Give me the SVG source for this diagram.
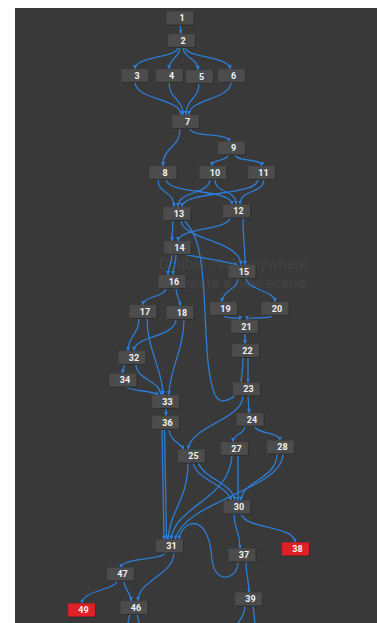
<svg xmlns="http://www.w3.org/2000/svg" width="377" height="623" viewBox="0 0 377 623">
<defs>
<style>
.n rect{fill:#4c4c4c;stroke:#404040;stroke-width:0.5}
.n .sh{fill:#2b2b2b;stroke:none}
.r rect{fill:#de2127;stroke:#b81a1f}
.n text{fill:#f2f2f2;font-family:Roboto,"Noto Sans","Liberation Sans",sans-serif;font-weight:bold;font-size:9px;text-anchor:middle}
.e path{fill:none;stroke:#2c7dd6;stroke-width:1.3;marker-end:url(#a)}
.e path.na{marker-end:none}
.wm{fill:#434343;font-family:Roboto,"Noto Sans","Liberation Sans",sans-serif;font-size:15px;text-anchor:middle}
</style>
<marker id="a" markerUnits="userSpaceOnUse" markerWidth="4" markerHeight="4" refX="4" refY="2" orient="auto">
<path d="M0,0 L4,2 L0,4 z" fill="#2c7dd6"/>
</marker>
</defs>
<rect x="0" y="0" width="377" height="623" fill="#ffffff"/>
<rect x="15" y="8" width="362" height="615" fill="#393939"/>
<text class="wm" x="233" y="269">Double click anywhere</text>
<text class="wm" x="233" y="288">to create a new scene</text>
<g id="connectors" class="e">
<path d="M180 24.5 L181 34"/>
<path d="M178 47 C178 58, 135 56, 135 69"/>
<path d="M180 47 C180 58, 169 58, 169 69"/>
<path d="M183 47 C183 58, 198 58, 198 70"/>
<path d="M185 47 C185 58, 230 56, 230 69"/>
<path d="M135 82 C135 100, 181 98, 181 115"/>
<path d="M169 82 C169 100, 183 98, 183 115"/>
<path d="M199 83 C199 100, 186 98, 186 115"/>
<path d="M231 82 C231 100, 189 98, 189 115"/>
<path d="M180 128 C180 150, 163 145, 163 166"/>
<path d="M190 128 C190 138, 229 132, 229 141.5"/>
<path d="M228 154.5 C228 162, 212 158, 212 166"/>
<path d="M235 154.5 C235 162, 262 158, 262 166"/>
<path d="M158 179 C158 195, 174 190, 174 207"/>
<path d="M166 179 C166 195, 232 188, 232 204.5"/>
<path d="M210 179 C210 195, 178 190, 178 207"/>
<path d="M215 179 C215 195, 236 188, 236 204.5"/>
<path d="M258 179 C258 197, 182 190, 182 207"/>
<path d="M264 179 C264 195, 240 188, 240 204.5"/>
<path d="M173 220 C173 230, 172 232, 172 241"/>
<path d="M230 217.5 C230 230, 178 228, 178 241"/>
<path d="M181 220 C181 240, 241 240, 241 265"/>
<path d="M243 217.5 C243 240, 245 245, 245 265"/>
<path d="M184 254 C200 258, 220 260, 238 265"/>
<path class="na" d="M184 220 C195 232, 200 245, 203 280 C207 330, 205 370, 215 395 C220 405, 230 400, 235 395.5"/>
<path d="M172 254 C172 265, 168 265, 168 275"/>
<path d="M176 254 C176 265, 173 265, 173 275"/>
<path d="M238 278 C238 290, 222 290, 222 302"/>
<path d="M246 278 C246 290, 275 290, 275 302"/>
<path d="M224 315 C224 320, 240 316, 240 320"/>
<path d="M272 315 C272 320, 247 316, 247 320"/>
<path d="M245 333 L245 344"/>
<path class="na" d="M243 357 C243 370, 242 372, 241 382.5"/>
<path d="M248 357 C248 370, 248 370, 248 382.5"/>
<path d="M166 288 C166 297, 143 296, 143 305"/>
<path d="M176 288 C176 297, 180 297, 180 306"/>
<path d="M139 318 C139 335, 128 335, 128 351"/>
<path d="M176 319 C176 338, 134 335, 134 351"/>
<path d="M147 318 C147 350, 163 370, 163 395"/>
<path d="M184 319 C184 350, 169 370, 169 395"/>
<path d="M125 364 L122 373.5"/>
<path d="M136 364 C136 380, 160 380, 161 395"/>
<path d="M125 386.5 C135 392, 150 390, 159 395"/>
<path d="M166 408 L166 416"/>
<path d="M248 395.5 L249 413"/>
<path d="M243 395.5 C243 420, 191 425, 188 449.5"/>
<path d="M245 426 C245 435, 233 433, 233 442"/>
<path d="M255 426 C255 434, 280 432, 280 440.5"/>
<path d="M169 429 C170 442, 180 442, 184 449.5"/>
<path d="M162 429 L164 539.5"/>
<path d="M164.5 429 L166.5 539.5"/>
<path d="M188 462.5 C188 500, 170 510, 168 539.5"/>
<path d="M193 462.5 C196 480, 228 485, 231 500.5"/>
<path d="M198 462.5 C205 480, 232 482, 235 500.5"/>
<path d="M238 455 L238 500.5"/>
<path d="M232 455 C230 500, 175 505, 171 539.5"/>
<path d="M277 453.5 C277 480, 242 480, 241 500.5"/>
<path d="M283 453.5 C283 490, 185 500, 175 539.5"/>
<path d="M234 513.5 C234 530, 240 530, 240 548.5"/>
<path d="M241 513.5 C245 530, 295 525, 295 542.5"/>
<path d="M246 561.5 C246 575, 249 580, 249 592.5"/>
<path d="M238 561.5 C238 580, 215 585, 212 560 C210 530, 200 520, 188 525 C183 528, 180 533, 179 539.5"/>
<path d="M165 552.5 C165 560, 121 558, 121 567.5"/>
<path d="M174 552.5 C174 575, 138 580, 138 601"/>
<path d="M117 580.5 C117 590, 82 590, 82 603.5"/>
<path d="M124 580.5 C124 590, 131 592, 131 601"/>
<path class="na" d="M130 614 L128 623"/>
<path class="na" d="M137 614 L139 623"/>
<path class="na" d="M245 605.5 C245 615, 240 620, 238 623"/>
<path class="na" d="M253 605.5 L255 623"/>
</g>
<g id="node1" class="n"><rect class="sh" x="167.5" y="12.5" width="27" height="13"/><rect x="166.5" y="11.5" width="27" height="13"/><text x="182" y="21">1</text></g>
<g id="node2" class="n"><rect class="sh" x="169" y="35" width="27" height="13"/><rect x="168" y="34" width="27" height="13"/><text x="183" y="43.5">2</text></g>
<g id="node3" class="n"><rect class="sh" x="122.5" y="70" width="27" height="13"/><rect x="121.5" y="69" width="27" height="13"/><text x="137" y="78.5">3</text></g>
<g id="node4" class="n"><rect class="sh" x="157" y="70" width="27" height="13"/><rect x="156" y="69" width="27" height="13"/><text x="171.5" y="78.5">4</text></g>
<g id="node5" class="n"><rect class="sh" x="187" y="71" width="27" height="13"/><rect x="186" y="70" width="27" height="13"/><text x="201.5" y="79.5">5</text></g>
<g id="node6" class="n"><rect class="sh" x="219" y="70" width="27" height="13"/><rect x="218" y="69" width="27" height="13"/><text x="233.5" y="78.5">6</text></g>
<g id="node7" class="n"><rect class="sh" x="173" y="116" width="27" height="13"/><rect x="172" y="115" width="27" height="13"/><text x="187.5" y="124.5">7</text></g>
<g id="node9" class="n"><rect class="sh" x="219" y="142.5" width="27" height="13"/><rect x="218" y="141.5" width="27" height="13"/><text x="233.5" y="151">9</text></g>
<g id="node8" class="n"><rect class="sh" x="150.5" y="167" width="27" height="13"/><rect x="149.5" y="166" width="27" height="13"/><text x="165" y="175.5">8</text></g>
<g id="node10" class="n"><rect class="sh" x="200.5" y="167" width="27" height="13"/><rect x="199.5" y="166" width="27" height="13"/><text x="215" y="175.5">10</text></g>
<g id="node11" class="n"><rect class="sh" x="249" y="167" width="27" height="13"/><rect x="248" y="166" width="27" height="13"/><text x="263.5" y="175.5">11</text></g>
<g id="node13" class="n"><rect class="sh" x="164.5" y="208" width="27" height="13"/><rect x="163.5" y="207" width="27" height="13"/><text x="179" y="216.5">13</text></g>
<g id="node12" class="n"><rect class="sh" x="224" y="205.5" width="27" height="13"/><rect x="223" y="204.5" width="27" height="13"/><text x="238.5" y="214">12</text></g>
<g id="node14" class="n"><rect class="sh" x="165" y="242" width="27" height="13"/><rect x="164" y="241" width="27" height="13"/><text x="179.5" y="250.5">14</text></g>
<g id="node15" class="n"><rect class="sh" x="229.5" y="266" width="27" height="13"/><rect x="228.5" y="265" width="27" height="13"/><text x="244" y="274.5">15</text></g>
<g id="node16" class="n"><rect class="sh" x="159.5" y="276" width="27" height="13"/><rect x="158.5" y="275" width="27" height="13"/><text x="174" y="284.5">16</text></g>
<g id="node17" class="n"><rect class="sh" x="130.5" y="306" width="27" height="13"/><rect x="129.5" y="305" width="27" height="13"/><text x="145" y="314.5">17</text></g>
<g id="node18" class="n"><rect class="sh" x="167.5" y="307" width="27" height="13"/><rect x="166.5" y="306" width="27" height="13"/><text x="182" y="315.5">18</text></g>
<g id="node19" class="n"><rect class="sh" x="211" y="303" width="27" height="13"/><rect x="210" y="302" width="27" height="13"/><text x="225.5" y="311.5">19</text></g>
<g id="node20" class="n"><rect class="sh" x="262.5" y="303" width="27" height="13"/><rect x="261.5" y="302" width="27" height="13"/><text x="277" y="311.5">20</text></g>
<g id="node21" class="n"><rect class="sh" x="232" y="321" width="27" height="13"/><rect x="231" y="320" width="27" height="13"/><text x="246.5" y="329.5">21</text></g>
<g id="node22" class="n"><rect class="sh" x="233" y="345" width="27" height="13"/><rect x="232" y="344" width="27" height="13"/><text x="247.5" y="353.5">22</text></g>
<g id="node32" class="n"><rect class="sh" x="119.5" y="352" width="27" height="13"/><rect x="118.5" y="351" width="27" height="13"/><text x="134" y="360.5">32</text></g>
<g id="node34" class="n"><rect class="sh" x="110.5" y="374.5" width="27" height="13"/><rect x="109.5" y="373.5" width="27" height="13"/><text x="125" y="383">34</text></g>
<g id="node23" class="n"><rect class="sh" x="234" y="383.5" width="27" height="13"/><rect x="233" y="382.5" width="27" height="13"/><text x="248.5" y="392">23</text></g>
<g id="node33" class="n"><rect class="sh" x="153" y="396" width="27" height="13"/><rect x="152" y="395" width="27" height="13"/><text x="167.5" y="404.5">33</text></g>
<g id="node36" class="n"><rect class="sh" x="153" y="417" width="27" height="13"/><rect x="152" y="416" width="27" height="13"/><text x="167.5" y="425.5">36</text></g>
<g id="node24" class="n"><rect class="sh" x="237.5" y="414" width="27" height="13"/><rect x="236.5" y="413" width="27" height="13"/><text x="252" y="422.5">24</text></g>
<g id="node25" class="n"><rect class="sh" x="179" y="450.5" width="27" height="13"/><rect x="178" y="449.5" width="27" height="13"/><text x="193.5" y="459">25</text></g>
<g id="node27" class="n"><rect class="sh" x="222" y="443" width="27" height="13"/><rect x="221" y="442" width="27" height="13"/><text x="236.5" y="451.5">27</text></g>
<g id="node28" class="n"><rect class="sh" x="268" y="441.5" width="27" height="13"/><rect x="267" y="440.5" width="27" height="13"/><text x="282.5" y="450">28</text></g>
<g id="node30" class="n"><rect class="sh" x="224.5" y="501.5" width="27" height="13"/><rect x="223.5" y="500.5" width="27" height="13"/><text x="239" y="510">30</text></g>
<g id="node31" class="n"><rect class="sh" x="157" y="540.5" width="27" height="13"/><rect x="156" y="539.5" width="27" height="13"/><text x="171.5" y="549">31</text></g>
<g id="node37" class="n"><rect class="sh" x="229.5" y="549.5" width="27" height="13"/><rect x="228.5" y="548.5" width="27" height="13"/><text x="244" y="558">37</text></g>
<g id="node38" class="n r"><rect class="sh" x="283" y="543.5" width="27" height="13"/><rect x="282" y="542.5" width="27" height="13"/><text x="297.5" y="552">38</text></g>
<g id="node47" class="n"><rect class="sh" x="108" y="568.5" width="27" height="13"/><rect x="107" y="567.5" width="27" height="13"/><text x="122.5" y="577">47</text></g>
<g id="node39" class="n"><rect class="sh" x="236" y="593.5" width="27" height="13"/><rect x="235" y="592.5" width="27" height="13"/><text x="250.5" y="602">39</text></g>
<g id="node49" class="n r"><rect class="sh" x="69" y="604.5" width="27" height="13"/><rect x="68" y="603.5" width="27" height="13"/><text x="83.5" y="613">49</text></g>
<g id="node46" class="n"><rect class="sh" x="121.5" y="602" width="27" height="13"/><rect x="120.5" y="601" width="27" height="13"/><text x="136" y="610.5">46</text></g>
</svg>
